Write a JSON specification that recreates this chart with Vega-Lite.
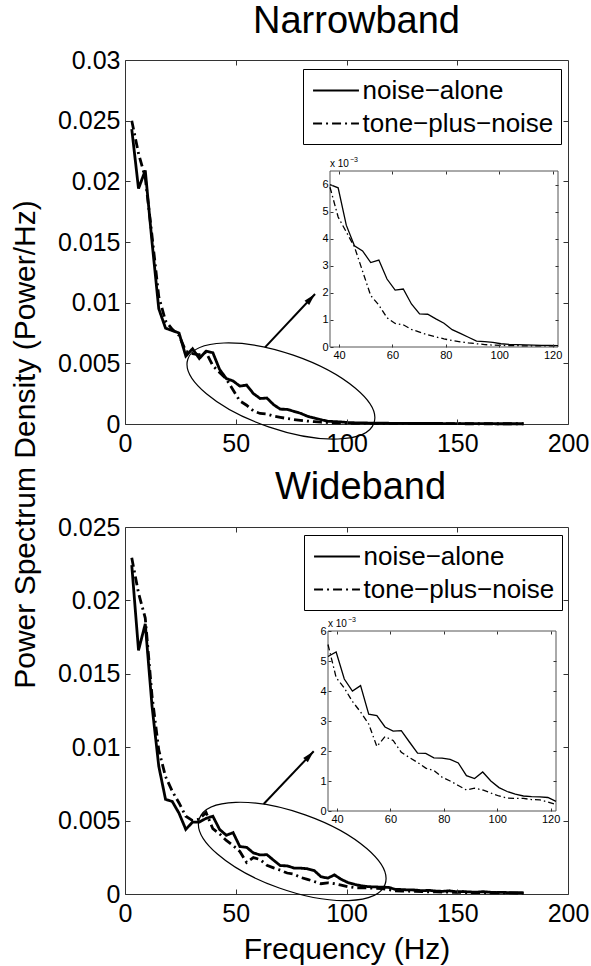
{
"$schema": "https://vega.github.io/schema/vega-lite/v6.json",
"padding": {"left": 9, "top": 2, "right": 0, "bottom": 0},
"background": "white",
"config": {
 "font": "Liberation Sans",
 "view": {"stroke": "#333", "strokeWidth": 1},
 "axis": {"labelColor": "black", "tickColor": "#333", "domainColor": "#333", "grid": false, "labelFont": "Liberation Sans", "titleFont": "Liberation Sans", "titleFontWeight": "normal", "titleColor": "black", "labelFlush": false, "labelOverlap": false},
 "legend": {"labelFont": "Liberation Sans"}
},
"datasets": {
"nb": [
{"f":3.05,"v":0.0243,"s":"noise−alone"},{"f":6.1,"v":0.0194,"s":"noise−alone"},{"f":9.15,"v":0.0209,"s":"noise−alone"},{"f":12.2,"v":0.015,"s":"noise−alone"},{"f":15.25,"v":0.0095,"s":"noise−alone"},{"f":18.3,"v":0.0079,"s":"noise−alone"},{"f":21.35,"v":0.0077,"s":"noise−alone"},{"f":24.4,"v":0.0075,"s":"noise−alone"},{"f":27.45,"v":0.0056,"s":"noise−alone"},{"f":30.5,"v":0.0062,"s":"noise−alone"},{"f":33.55,"v":0.0054,"s":"noise−alone"},{"f":36.6,"v":0.006,"s":"noise−alone"},{"f":39.65,"v":0.00588,"s":"noise−alone"},{"f":42.7,"v":0.0045,"s":"noise−alone"},{"f":45.75,"v":0.00374,"s":"noise−alone"},{"f":48.8,"v":0.00355,"s":"noise−alone"},{"f":51.85,"v":0.00312,"s":"noise−alone"},{"f":54.9,"v":0.00321,"s":"noise−alone"},{"f":57.95,"v":0.00251,"s":"noise−alone"},{"f":61,"v":0.0021,"s":"noise−alone"},{"f":64.05,"v":0.00214,"s":"noise−alone"},{"f":67.1,"v":0.00159,"s":"noise−alone"},{"f":70.15,"v":0.00122,"s":"noise−alone"},{"f":73.2,"v":0.00121,"s":"noise−alone"},{"f":76.25,"v":0.00104,"s":"noise−alone"},{"f":79.3,"v":0.00088,"s":"noise−alone"},{"f":82.35,"v":0.00064,"s":"noise−alone"},{"f":85.4,"v":0.0005,"s":"noise−alone"},{"f":88.45,"v":0.00036,"s":"noise−alone"},{"f":91.5,"v":0.00022,"s":"noise−alone"},{"f":94.55,"v":0.0002,"s":"noise−alone"},{"f":97.6,"v":0.00017,"s":"noise−alone"},{"f":100.65,"v":0.00012,"s":"noise−alone"},{"f":103.7,"v":0.0001,"s":"noise−alone"},{"f":106.75,"v":0.00009,"s":"noise−alone"},{"f":109.8,"v":0.00008,"s":"noise−alone"},{"f":112.85,"v":0.00007,"s":"noise−alone"},{"f":115.9,"v":0.00006,"s":"noise−alone"},{"f":118.95,"v":0.00006,"s":"noise−alone"},{"f":122,"v":0.00005,"s":"noise−alone"},{"f":125.05,"v":0.00005,"s":"noise−alone"},{"f":128.1,"v":0.00005,"s":"noise−alone"},{"f":131.15,"v":0.00004,"s":"noise−alone"},{"f":134.2,"v":0.00004,"s":"noise−alone"},{"f":137.25,"v":0.00004,"s":"noise−alone"},{"f":140.3,"v":0.00004,"s":"noise−alone"},{"f":143.35,"v":0.00004,"s":"noise−alone"},{"f":146.4,"v":0.00003,"s":"noise−alone"},{"f":149.45,"v":0.00003,"s":"noise−alone"},{"f":152.5,"v":0.00003,"s":"noise−alone"},{"f":155.55,"v":0.00003,"s":"noise−alone"},{"f":158.6,"v":0.00003,"s":"noise−alone"},{"f":161.65,"v":0.00003,"s":"noise−alone"},{"f":164.7,"v":0.00003,"s":"noise−alone"},{"f":167.75,"v":0.00002,"s":"noise−alone"},{"f":170.8,"v":0.00002,"s":"noise−alone"},{"f":173.85,"v":0.00002,"s":"noise−alone"},{"f":176.9,"v":0.00002,"s":"noise−alone"},{"f":179.95,"v":0.00002,"s":"noise−alone"},
{"f":3.05,"v":0.025,"s":"tone−plus−noise"},{"f":6.1,"v":0.0223,"s":"tone−plus−noise"},{"f":9.15,"v":0.0203,"s":"tone−plus−noise"},{"f":12.2,"v":0.0155,"s":"tone−plus−noise"},{"f":15.25,"v":0.0105,"s":"tone−plus−noise"},{"f":18.3,"v":0.0085,"s":"tone−plus−noise"},{"f":21.35,"v":0.0078,"s":"tone−plus−noise"},{"f":24.4,"v":0.0073,"s":"tone−plus−noise"},{"f":27.45,"v":0.006,"s":"tone−plus−noise"},{"f":30.5,"v":0.0058,"s":"tone−plus−noise"},{"f":33.55,"v":0.0057,"s":"tone−plus−noise"},{"f":36.6,"v":0.0059,"s":"tone−plus−noise"},{"f":39.65,"v":0.0048,"s":"tone−plus−noise"},{"f":42.7,"v":0.00425,"s":"tone−plus−noise"},{"f":45.75,"v":0.0037,"s":"tone−plus−noise"},{"f":48.8,"v":0.0028,"s":"tone−plus−noise"},{"f":51.85,"v":0.0019,"s":"tone−plus−noise"},{"f":54.9,"v":0.00155,"s":"tone−plus−noise"},{"f":57.95,"v":0.00108,"s":"tone−plus−noise"},{"f":61,"v":0.00087,"s":"tone−plus−noise"},{"f":64.05,"v":0.00082,"s":"tone−plus−noise"},{"f":67.1,"v":0.00065,"s":"tone−plus−noise"},{"f":70.15,"v":0.00055,"s":"tone−plus−noise"},{"f":73.2,"v":0.00045,"s":"tone−plus−noise"},{"f":76.25,"v":0.00037,"s":"tone−plus−noise"},{"f":79.3,"v":0.0003,"s":"tone−plus−noise"},{"f":82.35,"v":0.00024,"s":"tone−plus−noise"},{"f":85.4,"v":0.00019,"s":"tone−plus−noise"},{"f":88.45,"v":0.00015,"s":"tone−plus−noise"},{"f":91.5,"v":0.00012,"s":"tone−plus−noise"},{"f":94.55,"v":0.00009,"s":"tone−plus−noise"},{"f":97.6,"v":0.00007,"s":"tone−plus−noise"},{"f":100.65,"v":0.00006,"s":"tone−plus−noise"},{"f":103.7,"v":0.00005,"s":"tone−plus−noise"},{"f":106.75,"v":0.00005,"s":"tone−plus−noise"},{"f":109.8,"v":0.00004,"s":"tone−plus−noise"},{"f":112.85,"v":0.00004,"s":"tone−plus−noise"},{"f":115.9,"v":0.00004,"s":"tone−plus−noise"},{"f":118.95,"v":0.00004,"s":"tone−plus−noise"},{"f":122,"v":0.00004,"s":"tone−plus−noise"},{"f":125.05,"v":0.00003,"s":"tone−plus−noise"},{"f":128.1,"v":0.00003,"s":"tone−plus−noise"},{"f":131.15,"v":0.00003,"s":"tone−plus−noise"},{"f":134.2,"v":0.00003,"s":"tone−plus−noise"},{"f":137.25,"v":0.00003,"s":"tone−plus−noise"},{"f":140.3,"v":0.00003,"s":"tone−plus−noise"},{"f":143.35,"v":0.00003,"s":"tone−plus−noise"},{"f":146.4,"v":0.00003,"s":"tone−plus−noise"},{"f":149.45,"v":0.00003,"s":"tone−plus−noise"},{"f":152.5,"v":0.00002,"s":"tone−plus−noise"},{"f":155.55,"v":0.00002,"s":"tone−plus−noise"},{"f":158.6,"v":0.00002,"s":"tone−plus−noise"},{"f":161.65,"v":0.00002,"s":"tone−plus−noise"},{"f":164.7,"v":0.00002,"s":"tone−plus−noise"},{"f":167.75,"v":0.00002,"s":"tone−plus−noise"},{"f":170.8,"v":0.00002,"s":"tone−plus−noise"},{"f":173.85,"v":0.00002,"s":"tone−plus−noise"},{"f":176.9,"v":0.00002,"s":"tone−plus−noise"},{"f":179.95,"v":0.00002,"s":"tone−plus−noise"}
],
"wb": [
{"f":3.05,"v":0.0224,"s":"noise−alone"},{"f":6.1,"v":0.0166,"s":"noise−alone"},{"f":9.15,"v":0.0184,"s":"noise−alone"},{"f":12.2,"v":0.0128,"s":"noise−alone"},{"f":15.25,"v":0.0087,"s":"noise−alone"},{"f":18.3,"v":0.00645,"s":"noise−alone"},{"f":21.35,"v":0.0063,"s":"noise−alone"},{"f":24.4,"v":0.0055,"s":"noise−alone"},{"f":27.45,"v":0.0044,"s":"noise−alone"},{"f":30.5,"v":0.0049,"s":"noise−alone"},{"f":33.55,"v":0.0049,"s":"noise−alone"},{"f":36.6,"v":0.00515,"s":"noise−alone"},{"f":39.65,"v":0.0053,"s":"noise−alone"},{"f":42.7,"v":0.0044,"s":"noise−alone"},{"f":45.75,"v":0.004,"s":"noise−alone"},{"f":48.8,"v":0.00418,"s":"noise−alone"},{"f":51.85,"v":0.00323,"s":"noise−alone"},{"f":54.9,"v":0.00318,"s":"noise−alone"},{"f":57.95,"v":0.0028,"s":"noise−alone"},{"f":61,"v":0.00266,"s":"noise−alone"},{"f":64.05,"v":0.00268,"s":"noise−alone"},{"f":67.1,"v":0.0023,"s":"noise−alone"},{"f":70.15,"v":0.00193,"s":"noise−alone"},{"f":73.2,"v":0.00192,"s":"noise−alone"},{"f":76.25,"v":0.00177,"s":"noise−alone"},{"f":79.3,"v":0.00176,"s":"noise−alone"},{"f":82.35,"v":0.00172,"s":"noise−alone"},{"f":85.4,"v":0.0016,"s":"noise−alone"},{"f":88.45,"v":0.00118,"s":"noise−alone"},{"f":91.5,"v":0.00108,"s":"noise−alone"},{"f":94.55,"v":0.0013,"s":"noise−alone"},{"f":97.6,"v":0.001,"s":"noise−alone"},{"f":100.65,"v":0.00078,"s":"noise−alone"},{"f":103.7,"v":0.00065,"s":"noise−alone"},{"f":106.75,"v":0.00056,"s":"noise−alone"},{"f":109.8,"v":0.0005,"s":"noise−alone"},{"f":112.85,"v":0.00048,"s":"noise−alone"},{"f":115.9,"v":0.00047,"s":"noise−alone"},{"f":118.95,"v":0.00045,"s":"noise−alone"},{"f":122,"v":0.00032,"s":"noise−alone"},{"f":125.05,"v":0.0003,"s":"noise−alone"},{"f":128.1,"v":0.00028,"s":"noise−alone"},{"f":131.15,"v":0.00027,"s":"noise−alone"},{"f":134.2,"v":0.00022,"s":"noise−alone"},{"f":137.25,"v":0.00025,"s":"noise−alone"},{"f":140.3,"v":0.0002,"s":"noise−alone"},{"f":143.35,"v":0.00018,"s":"noise−alone"},{"f":146.4,"v":0.00022,"s":"noise−alone"},{"f":149.45,"v":0.00015,"s":"noise−alone"},{"f":152.5,"v":0.00017,"s":"noise−alone"},{"f":155.55,"v":0.00014,"s":"noise−alone"},{"f":158.6,"v":0.00012,"s":"noise−alone"},{"f":161.65,"v":0.00016,"s":"noise−alone"},{"f":164.7,"v":0.00012,"s":"noise−alone"},{"f":167.75,"v":0.0001,"s":"noise−alone"},{"f":170.8,"v":0.00011,"s":"noise−alone"},{"f":173.85,"v":0.00009,"s":"noise−alone"},{"f":176.9,"v":0.0001,"s":"noise−alone"},{"f":179.95,"v":0.00008,"s":"noise−alone"},
{"f":3.05,"v":0.0229,"s":"tone−plus−noise"},{"f":6.1,"v":0.0205,"s":"tone−plus−noise"},{"f":9.15,"v":0.0188,"s":"tone−plus−noise"},{"f":12.2,"v":0.0135,"s":"tone−plus−noise"},{"f":15.25,"v":0.0098,"s":"tone−plus−noise"},{"f":18.3,"v":0.008,"s":"tone−plus−noise"},{"f":21.35,"v":0.007,"s":"tone−plus−noise"},{"f":24.4,"v":0.0062,"s":"tone−plus−noise"},{"f":27.45,"v":0.0053,"s":"tone−plus−noise"},{"f":30.5,"v":0.005,"s":"tone−plus−noise"},{"f":33.55,"v":0.0051,"s":"tone−plus−noise"},{"f":36.6,"v":0.00555,"s":"tone−plus−noise"},{"f":39.65,"v":0.00445,"s":"tone−plus−noise"},{"f":42.7,"v":0.0041,"s":"tone−plus−noise"},{"f":45.75,"v":0.00365,"s":"tone−plus−noise"},{"f":48.8,"v":0.0033,"s":"tone−plus−noise"},{"f":51.85,"v":0.0029,"s":"tone−plus−noise"},{"f":54.9,"v":0.00215,"s":"tone−plus−noise"},{"f":57.95,"v":0.00248,"s":"tone−plus−noise"},{"f":61,"v":0.00235,"s":"tone−plus−noise"},{"f":64.05,"v":0.00196,"s":"tone−plus−noise"},{"f":67.1,"v":0.00178,"s":"tone−plus−noise"},{"f":70.15,"v":0.00162,"s":"tone−plus−noise"},{"f":73.2,"v":0.00143,"s":"tone−plus−noise"},{"f":76.25,"v":0.00135,"s":"tone−plus−noise"},{"f":79.3,"v":0.00113,"s":"tone−plus−noise"},{"f":82.35,"v":0.001,"s":"tone−plus−noise"},{"f":85.4,"v":0.00085,"s":"tone−plus−noise"},{"f":88.45,"v":0.0007,"s":"tone−plus−noise"},{"f":91.5,"v":0.00076,"s":"tone−plus−noise"},{"f":94.55,"v":0.0007,"s":"tone−plus−noise"},{"f":97.6,"v":0.0006,"s":"tone−plus−noise"},{"f":100.65,"v":0.0005,"s":"tone−plus−noise"},{"f":103.7,"v":0.00043,"s":"tone−plus−noise"},{"f":106.75,"v":0.00042,"s":"tone−plus−noise"},{"f":109.8,"v":0.00042,"s":"tone−plus−noise"},{"f":112.85,"v":0.00038,"s":"tone−plus−noise"},{"f":115.9,"v":0.00037,"s":"tone−plus−noise"},{"f":118.95,"v":0.0003,"s":"tone−plus−noise"},{"f":122,"v":0.00022,"s":"tone−plus−noise"},{"f":125.05,"v":0.0002,"s":"tone−plus−noise"},{"f":128.1,"v":0.00019,"s":"tone−plus−noise"},{"f":131.15,"v":0.00018,"s":"tone−plus−noise"},{"f":134.2,"v":0.00016,"s":"tone−plus−noise"},{"f":137.25,"v":0.00015,"s":"tone−plus−noise"},{"f":140.3,"v":0.00014,"s":"tone−plus−noise"},{"f":143.35,"v":0.00013,"s":"tone−plus−noise"},{"f":146.4,"v":0.00012,"s":"tone−plus−noise"},{"f":149.45,"v":0.00012,"s":"tone−plus−noise"},{"f":152.5,"v":0.0001,"s":"tone−plus−noise"},{"f":155.55,"v":0.0001,"s":"tone−plus−noise"},{"f":158.6,"v":0.00009,"s":"tone−plus−noise"},{"f":161.65,"v":0.00009,"s":"tone−plus−noise"},{"f":164.7,"v":0.00008,"s":"tone−plus−noise"},{"f":167.75,"v":0.00008,"s":"tone−plus−noise"},{"f":170.8,"v":0.00007,"s":"tone−plus−noise"},{"f":173.85,"v":0.00007,"s":"tone−plus−noise"},{"f":176.9,"v":0.00006,"s":"tone−plus−noise"},{"f":179.95,"v":0.00006,"s":"tone−plus−noise"}
]
},
"spacing": 103,
"bounds": "flush",
"resolve": {"scale": {"strokeDash": "independent"}, "legend": {"strokeDash": "independent"}},
"vconcat": [
{
 "width": 443, "height": 364,
 "title": {"text": "Narrowband", "fontSize": 38, "font": "Liberation Sans", "fontWeight": "normal", "anchor": "middle", "frame": "group", "offset": -23, "baseline": "alphabetic", "dx": 10, "color": "black"},
 "layer": [
  {
   "layer": [
    {
     "data": {"name": "nb"},
     "mark": {"type": "line", "strokeWidth": 2.8, "color": "black"},
     "encoding": {
      "x": {"field": "f", "type": "quantitative", "scale": {"domain": [0, 200], "nice": false, "zero": false}, "axis": {"orient": "bottom", "values": [0, 50, 100, 150, 200], "tickSize": -5, "labelPadding": 12, "labelFontSize": 25, "domain": false, "title": null, "zindex": 1}},
      "y": {"field": "v", "type": "quantitative", "scale": {"domain": [0, 0.03], "nice": false}, "axis": {"orient": "left", "values": [0, 0.005, 0.01, 0.015, 0.02, 0.025, 0.03], "format": "~g", "tickSize": -5, "labelPadding": 10, "labelFontSize": 25, "domain": false, "zindex": 1, "title": "Power Spectrum Density (Power/Hz)", "titleFontSize": 30, "titleX": -91, "titleY": 384, "titleAngle": 270, "titleBaseline": "alphabetic", "titleAlign": "center"}},
      "strokeDash": {"field": "s", "type": "nominal", "scale": {"domain": ["noise−alone", "tone−plus−noise"], "range": [[1, 0], [9, 4, 2, 4]]}, "legend": {"orient": "none", "legendX": 178, "legendY": 9, "title": null, "symbolType": "M -1.7 0 L 1.7 0", "symbolSize": 729, "symbolOffset": 11.5, "symbolStrokeWidth": 2, "symbolStrokeColor": "black", "symbolFillColor": "transparent", "labelFontSize": 26, "labelColor": "black", "strokeColor": "black", "fillColor": "white", "padding": 7, "rowPadding": 5, "labelOffset": 12, "labelLimit": 400}}
     }
    },
    {
     "data": {"values": [{"f": 70.4, "v": 0.00272}]},
     "mark": {"type": "point", "shape": "M -1 0 C -1 -0.2127 -0.5523 -0.385 0 -0.385 C 0.5523 -0.385 1 -0.2127 1 0 C 1 0.2127 0.5523 0.385 0 0.385 C -0.5523 0.385 -1 0.2127 -1 0 Z", "filled": false, "stroke": "black", "strokeWidth": 1.2, "size": 38730, "angle": 19, "opacity": 1},
     "encoding": {
      "x": {"field": "f", "type": "quantitative", "scale": {"domain": [0, 200], "nice": false, "zero": false}, "axis": {"orient": "top", "values": [50, 100, 150], "tickSize": -5, "labels": false, "domain": false, "title": null, "zindex": 1}},
      "y": {"field": "v", "type": "quantitative", "scale": {"domain": [0, 0.03], "nice": false}, "axis": {"orient": "right", "values": [0.005, 0.01, 0.015, 0.02, 0.025], "tickSize": -5, "labels": false, "domain": false, "title": null, "zindex": 1}}
     }
    },
    {
     "data": {"values": [{"f1": 63.2, "v1": 0.00632, "f2": 85.8, "v2": 0.01071}]},
     "mark": {"type": "rule", "strokeWidth": 2, "color": "black"},
     "encoding": {
      "x": {"field": "f1", "type": "quantitative", "axis": null},
      "y": {"field": "v1", "type": "quantitative", "axis": null},
      "x2": {"field": "f2"},
      "y2": {"field": "v2"}
     }
    },
    {
     "data": {"values": [{"f2": 85.8, "v2": 0.01071}]},
     "mark": {"type": "point", "shape": "M 0 0 L 0.42 1.6 L -0.42 1.6 Z", "filled": true, "color": "black", "size": 225, "angle": 43, "opacity": 1},
     "encoding": {
      "x": {"field": "f2", "type": "quantitative", "axis": null},
      "y": {"field": "v2", "type": "quantitative", "axis": null}
     }
    }
   ],
   "resolve": {"axis": {"x": "independent", "y": "independent"}}
  },
  {
   "layer": [
    {
     "data": {"values": [{"x1": 36.6, "x2": 122, "y1": 0, "y2": 0.0065}]},
     "mark": {"type": "rect", "fill": "white", "stroke": "#555", "strokeWidth": 1},
     "encoding": {
      "x": {"field": "x1", "type": "quantitative", "scale": {"domain": [36.6, 122], "range": [205, 433], "nice": false, "zero": false}, "axis": {"orient": "bottom", "offset": -77, "values": [40, 60, 80, 100, 120], "tickSize": -3, "labelPadding": 5, "labelFontSize": 11, "domain": false, "title": null, "zindex": 1}},
      "x2": {"field": "x2"},
      "y": {"field": "y1", "type": "quantitative", "scale": {"domain": [0, 0.0065], "range": [287, 111], "nice": false}, "axis": {"orient": "left", "offset": -205, "values": [0, 0.001, 0.002, 0.003, 0.004, 0.005, 0.006], "labelExpr": "format(datum.value*1000,'d')", "tickSize": -3, "labelPadding": 5, "labelFontSize": 11, "domain": false, "title": null, "zindex": 1}},
      "y2": {"field": "y2"}
     }
    },
    {
     "data": {"name": "nb"},
     "transform": [{"filter": "datum.f > 36 && datum.f < 122.5 && datum.s == 'noise−alone'"}],
     "mark": {"type": "line", "color": "black", "strokeWidth": 1.3},
     "encoding": {"x": {"field": "f", "type": "quantitative", "axis": null}, "y": {"field": "v", "type": "quantitative", "axis": null}}
    },
    {
     "data": {"name": "nb"},
     "transform": [{"filter": "datum.f > 36 && datum.f < 122.5 && datum.s == 'tone−plus−noise'"}],
     "mark": {"type": "line", "color": "black", "strokeWidth": 1.3, "strokeDash": [6, 3, 1.5, 3]},
     "encoding": {"x": {"field": "f", "type": "quantitative", "axis": null}, "y": {"field": "v", "type": "quantitative", "axis": null}}
    },
    {
     "data": {"values": [{"x": 36.6, "y": 0.0065}]},
     "mark": {"type": "text", "text": "x 10", "align": "left", "baseline": "alphabetic", "dy": -4, "fontSize": 10, "color": "black"},
     "encoding": {
      "x": {"field": "x", "type": "quantitative", "axis": {"orient": "top", "offset": -111, "values": [40, 60, 80, 100, 120], "tickSize": -3, "labels": false, "domain": false, "title": null, "zindex": 1}},
      "y": {"field": "y", "type": "quantitative", "axis": {"orient": "right", "offset": -10, "values": [0.001, 0.002, 0.003, 0.004, 0.005, 0.006], "tickSize": -3, "labels": false, "domain": false, "title": null, "zindex": 1}}
     }
    },
    {
     "data": {"values": [{"x": 36.6, "y": 0.0065}]},
     "mark": {"type": "text", "text": "−3", "align": "left", "baseline": "alphabetic", "dx": 20, "dy": -9, "fontSize": 7, "color": "black"},
     "encoding": {"x": {"field": "x", "type": "quantitative", "axis": null}, "y": {"field": "y", "type": "quantitative", "axis": null}}
    }
   ],
   "resolve": {"axis": {"x": "independent", "y": "independent"}}
  }
 ],
 "resolve": {"scale": {"x": "independent", "y": "independent"}, "axis": {"x": "independent", "y": "independent"}}
},
{
 "width": 443, "height": 367,
 "title": {"text": "Wideband", "fontSize": 38, "font": "Liberation Sans", "fontWeight": "normal", "anchor": "middle", "frame": "group", "offset": -22, "baseline": "alphabetic", "dx": 14, "color": "black"},
 "layer": [
  {
   "layer": [
    {
     "data": {"name": "wb"},
     "mark": {"type": "line", "strokeWidth": 2.8, "color": "black"},
     "encoding": {
      "x": {"field": "f", "type": "quantitative", "scale": {"domain": [0, 200], "nice": false, "zero": false}, "axis": {"orient": "bottom", "values": [0, 50, 100, 150, 200], "tickSize": -5, "labelPadding": 12, "labelFontSize": 25, "domain": false, "zindex": 1, "title": "Frequency (Hz)", "titleFontSize": 30, "titlePadding": 8}},
      "y": {"field": "v", "type": "quantitative", "scale": {"domain": [0, 0.025], "nice": false}, "axis": {"orient": "left", "values": [0, 0.005, 0.01, 0.015, 0.02, 0.025], "format": "~g", "tickSize": -5, "labelPadding": 10, "labelFontSize": 25, "domain": false, "zindex": 1, "title": null}},
      "strokeDash": {"field": "s", "type": "nominal", "scale": {"domain": ["noise−alone", "tone−plus−noise"], "range": [[1, 0], [9, 4, 2, 4]]}, "legend": {"orient": "none", "legendX": 179, "legendY": 8, "title": null, "symbolType": "M -1.7 0 L 1.7 0", "symbolSize": 729, "symbolOffset": 11.5, "symbolStrokeWidth": 2, "symbolStrokeColor": "black", "symbolFillColor": "transparent", "labelFontSize": 26, "labelColor": "black", "strokeColor": "black", "fillColor": "white", "padding": 7, "rowPadding": 5, "labelOffset": 12, "labelLimit": 400}}
     }
    },
    {
     "data": {"values": [{"f": 75.5, "v": 0.0029}]},
     "mark": {"type": "point", "shape": "M -1 0 C -1 -0.2176 -0.5523 -0.394 0 -0.394 C 0.5523 -0.394 1 -0.2176 1 0 C 1 0.2176 0.5523 0.394 0 0.394 C -0.5523 0.394 -1 0.2176 -1 0 Z", "filled": false, "stroke": "black", "strokeWidth": 1.2, "size": 38809, "angle": 19.5, "opacity": 1},
     "encoding": {
      "x": {"field": "f", "type": "quantitative", "scale": {"domain": [0, 200], "nice": false, "zero": false}, "axis": {"orient": "top", "values": [50, 100, 150], "tickSize": -5, "labels": false, "domain": false, "title": null, "zindex": 1}},
      "y": {"field": "v", "type": "quantitative", "scale": {"domain": [0, 0.025], "nice": false}, "axis": {"orient": "right", "values": [0.005, 0.01, 0.015, 0.02], "tickSize": -5, "labels": false, "domain": false, "title": null, "zindex": 1}}
     }
    },
    {
     "data": {"values": [{"f1": 62.6, "v1": 0.00613, "f2": 85.2, "v2": 0.00972}]},
     "mark": {"type": "rule", "strokeWidth": 2, "color": "black"},
     "encoding": {
      "x": {"field": "f1", "type": "quantitative", "axis": null},
      "y": {"field": "v1", "type": "quantitative", "axis": null},
      "x2": {"field": "f2"},
      "y2": {"field": "v2"}
     }
    },
    {
     "data": {"values": [{"f2": 85.2, "v2": 0.00972}]},
     "mark": {"type": "point", "shape": "M 0 0 L 0.42 1.6 L -0.42 1.6 Z", "filled": true, "color": "black", "size": 225, "angle": 43, "opacity": 1},
     "encoding": {
      "x": {"field": "f2", "type": "quantitative", "axis": null},
      "y": {"field": "v2", "type": "quantitative", "axis": null}
     }
    }
   ],
   "resolve": {"axis": {"x": "independent", "y": "independent"}}
  },
  {
   "layer": [
    {
     "data": {"values": [{"x1": 36.6, "x2": 122, "y1": 0, "y2": 0.006}]},
     "mark": {"type": "rect", "fill": "white", "stroke": "#555", "strokeWidth": 1},
     "encoding": {
      "x": {"field": "x1", "type": "quantitative", "scale": {"domain": [36.6, 122], "range": [203, 431], "nice": false, "zero": false}, "axis": {"orient": "bottom", "offset": -83, "values": [40, 60, 80, 100, 120], "tickSize": -3, "labelPadding": 5, "labelFontSize": 11, "domain": false, "title": null, "zindex": 1}},
      "x2": {"field": "x2"},
      "y": {"field": "y1", "type": "quantitative", "scale": {"domain": [0, 0.006], "range": [284, 104], "nice": false}, "axis": {"orient": "left", "offset": -203, "values": [0, 0.001, 0.002, 0.003, 0.004, 0.005, 0.006], "labelExpr": "format(datum.value*1000,'d')", "tickSize": -3, "labelPadding": 5, "labelFontSize": 11, "domain": false, "title": null, "zindex": 1}},
      "y2": {"field": "y2"}
     }
    },
    {
     "data": {"name": "wb"},
     "transform": [{"filter": "datum.f > 36 && datum.f < 122.5 && datum.s == 'noise−alone'"}],
     "mark": {"type": "line", "color": "black", "strokeWidth": 1.3},
     "encoding": {"x": {"field": "f", "type": "quantitative", "axis": null}, "y": {"field": "v", "type": "quantitative", "axis": null}}
    },
    {
     "data": {"name": "wb"},
     "transform": [{"filter": "datum.f > 36 && datum.f < 122.5 && datum.s == 'tone−plus−noise'"}],
     "mark": {"type": "line", "color": "black", "strokeWidth": 1.3, "strokeDash": [6, 3, 1.5, 3]},
     "encoding": {"x": {"field": "f", "type": "quantitative", "axis": null}, "y": {"field": "v", "type": "quantitative", "axis": null}}
    },
    {
     "data": {"values": [{"x": 36.6, "y": 0.006}]},
     "mark": {"type": "text", "text": "x 10", "align": "left", "baseline": "alphabetic", "dy": -4, "fontSize": 10, "color": "black"},
     "encoding": {
      "x": {"field": "x", "type": "quantitative", "axis": {"orient": "top", "offset": -104, "values": [40, 60, 80, 100, 120], "tickSize": -3, "labels": false, "domain": false, "title": null, "zindex": 1}},
      "y": {"field": "y", "type": "quantitative", "axis": {"orient": "right", "offset": -12, "values": [0.001, 0.002, 0.003, 0.004, 0.005], "tickSize": -3, "labels": false, "domain": false, "title": null, "zindex": 1}}
     }
    },
    {
     "data": {"values": [{"x": 36.6, "y": 0.006}]},
     "mark": {"type": "text", "text": "−3", "align": "left", "baseline": "alphabetic", "dx": 20, "dy": -9, "fontSize": 7, "color": "black"},
     "encoding": {"x": {"field": "x", "type": "quantitative", "axis": null}, "y": {"field": "y", "type": "quantitative", "axis": null}}
    }
   ],
   "resolve": {"axis": {"x": "independent", "y": "independent"}}
  }
 ],
 "resolve": {"scale": {"x": "independent", "y": "independent"}, "axis": {"x": "independent", "y": "independent"}}
}
]
}
